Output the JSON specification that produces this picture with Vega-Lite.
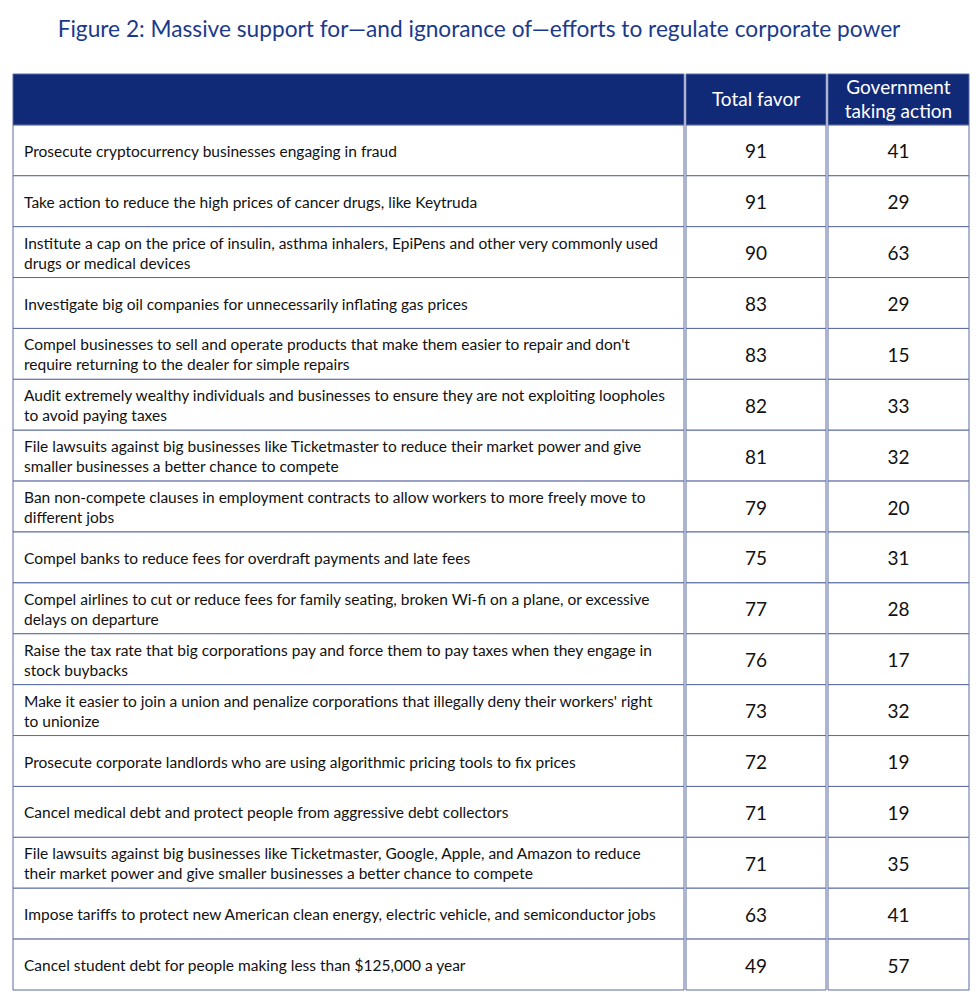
{
  "$schema": "https://vega.github.io/schema/vega-lite/v6.json",
  "autosize": {"type": "pad"},
  "padding": {"left": 12, "top": 18, "right": 0, "bottom": 0},
  "background": "white",
  "title": {
    "text": "Figure 2: Massive support for\u2014and ignorance of\u2014efforts to regulate corporate power",
    "anchor": "middle",
    "font": "Lato",
    "fontSize": 22.7,
    "fontWeight": "normal",
    "color": "#1b3a8c",
    "offset": 32,
    "dx": -12
  },
  "datasets": {
    "header": [
      {"rank": 0, "total": ["Total favor"], "gov": ["Government", "taking action"]}
    ],
    "rows": [
      {"rank": 1, "item": ["Prosecute cryptocurrency businesses engaging in fraud"], "total": 91, "gov": 41},
      {"rank": 2, "item": ["Take action to reduce the high prices of cancer drugs, like Keytruda"], "total": 91, "gov": 29},
      {"rank": 3, "item": ["Institute a cap on the price of insulin, asthma inhalers, EpiPens and other very commonly used", "drugs or medical devices"], "total": 90, "gov": 63},
      {"rank": 4, "item": ["Investigate big oil companies for unnecessarily inflating gas prices"], "total": 83, "gov": 29},
      {"rank": 5, "item": ["Compel businesses to sell and operate products that make them easier to repair and don't", "require returning to the dealer for simple repairs"], "total": 83, "gov": 15},
      {"rank": 6, "item": ["Audit extremely wealthy individuals and businesses to ensure they are not exploiting loopholes", "to avoid paying taxes"], "total": 82, "gov": 33},
      {"rank": 7, "item": ["File lawsuits against big businesses like Ticketmaster to reduce their market power and give", "smaller businesses a better chance to compete"], "total": 81, "gov": 32},
      {"rank": 8, "item": ["Ban non-compete clauses in employment contracts to allow workers to more freely move to", "different jobs"], "total": 79, "gov": 20},
      {"rank": 9, "item": ["Compel banks to reduce fees for overdraft payments and late fees"], "total": 75, "gov": 31},
      {"rank": 10, "item": ["Compel airlines to cut or reduce fees for family seating, broken Wi-fi on a plane, or excessive", "delays on departure"], "total": 77, "gov": 28},
      {"rank": 11, "item": ["Raise the tax rate that big corporations pay and force them to pay taxes when they engage in", "stock buybacks"], "total": 76, "gov": 17},
      {"rank": 12, "item": ["Make it easier to join a union and penalize corporations that illegally deny their workers' right", "to unionize"], "total": 73, "gov": 32},
      {"rank": 13, "item": ["Prosecute corporate landlords who are using algorithmic pricing tools to fix prices"], "total": 72, "gov": 19},
      {"rank": 14, "item": ["Cancel medical debt and protect people from aggressive debt collectors"], "total": 71, "gov": 19},
      {"rank": 15, "item": ["File lawsuits against big businesses like Ticketmaster, Google, Apple, and Amazon to reduce", "their market power and give smaller businesses a better chance to compete"], "total": 71, "gov": 35},
      {"rank": 16, "item": ["Impose tariffs to protect new American clean energy, electric vehicle, and semiconductor jobs"], "total": 63, "gov": 41},
      {"rank": 17, "item": ["Cancel student debt for people making less than $125,000 a year"], "total": 49, "gov": 57}
    ]
  },
  "spacing": 0,
  "hconcat": [
    {
      "width": 671,
      "height": 916,
      "layer": [
        {
          "data": {"name": "rows"},
          "mark": {"type": "rect", "fill": "white", "stroke": "#5b6ba3", "strokeWidth": 1},
          "encoding": {"y": {"field": "rank", "type": "ordinal", "axis": null, "scale": {"paddingInner": 0, "paddingOuter": 0}}}
        },
        {
          "data": {"name": "header"},
          "mark": {"type": "rect", "fill": "#112a78", "stroke": "#5b6ba3", "strokeWidth": 1},
          "encoding": {"y": {"field": "rank", "type": "ordinal", "axis": null}}
        },
        {
          "data": {"name": "rows"},
          "transform": [{"filter": "length(datum.item) == 1"}],
          "mark": {"type": "text", "align": "left", "baseline": "middle", "dx": 11, "dy": 1.5, "font": "Lato", "fontSize": 15.5, "lineHeight": 20, "color": "#111111"},
          "encoding": {
            "y": {"field": "rank", "type": "ordinal", "axis": null},
            "x": {"datum": 0, "type": "quantitative", "scale": {"domain": [0, 1]}, "axis": null},
            "text": {"field": "item"}
          }
        },
        {
          "data": {"name": "rows"},
          "transform": [{"filter": "length(datum.item) > 1"}],
          "mark": {"type": "text", "align": "left", "baseline": "middle", "dx": 11, "dy": -8.5, "font": "Lato", "fontSize": 15.5, "lineHeight": 20, "color": "#111111"},
          "encoding": {
            "y": {"field": "rank", "type": "ordinal", "axis": null},
            "x": {"datum": 0, "type": "quantitative", "scale": {"domain": [0, 1]}, "axis": null},
            "text": {"field": "item"}
          }
        }
      ]
    },
    {
      "width": 140,
      "height": 916,
      "layer": [
        {
          "data": {"name": "rows"},
          "mark": {"type": "rect", "fill": "white", "stroke": "#5b6ba3", "strokeWidth": 1},
          "encoding": {"y": {"field": "rank", "type": "ordinal", "axis": null, "scale": {"paddingInner": 0, "paddingOuter": 0}}}
        },
        {
          "data": {"name": "header"},
          "mark": {"type": "rect", "fill": "#112a78", "stroke": "#5b6ba3", "strokeWidth": 1},
          "encoding": {"y": {"field": "rank", "type": "ordinal", "axis": null}}
        },
        {
          "data": {"name": "header"},
          "mark": {"type": "text", "align": "center", "baseline": "middle", "dy": 1, "font": "Lato", "fontSize": 19, "lineHeight": 24, "color": "white"},
          "encoding": {"y": {"field": "rank", "type": "ordinal", "axis": null}, "text": {"field": "total"}}
        },
        {
          "data": {"name": "rows"},
          "mark": {"type": "text", "align": "center", "baseline": "middle", "dy": 2, "font": "Lato", "fontSize": 19, "color": "#111111"},
          "encoding": {"y": {"field": "rank", "type": "ordinal", "axis": null}, "text": {"field": "total"}}
        }
      ]
    },
    {
      "width": 141,
      "height": 916,
      "layer": [
        {
          "data": {"name": "rows"},
          "mark": {"type": "rect", "fill": "white", "stroke": "#5b6ba3", "strokeWidth": 1},
          "encoding": {"y": {"field": "rank", "type": "ordinal", "axis": null, "scale": {"paddingInner": 0, "paddingOuter": 0}}}
        },
        {
          "data": {"name": "header"},
          "mark": {"type": "rect", "fill": "#112a78", "stroke": "#5b6ba3", "strokeWidth": 1},
          "encoding": {"y": {"field": "rank", "type": "ordinal", "axis": null}}
        },
        {
          "data": {"name": "header"},
          "mark": {"type": "text", "align": "center", "baseline": "middle", "dy": -11, "font": "Lato", "fontSize": 19, "lineHeight": 24, "color": "white"},
          "encoding": {"y": {"field": "rank", "type": "ordinal", "axis": null}, "text": {"field": "gov"}}
        },
        {
          "data": {"name": "rows"},
          "mark": {"type": "text", "align": "center", "baseline": "middle", "dy": 2, "font": "Lato", "fontSize": 19, "color": "#111111"},
          "encoding": {"y": {"field": "rank", "type": "ordinal", "axis": null}, "text": {"field": "gov"}}
        }
      ]
    }
  ],
  "config": {"view": {"stroke": null}}
}
